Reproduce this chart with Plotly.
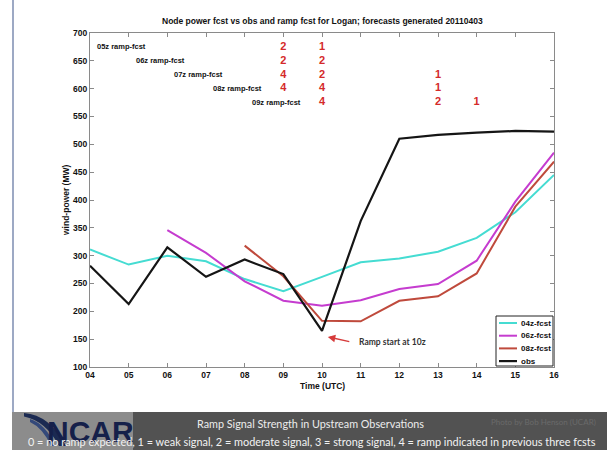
import plotly.graph_objects as go

# ---- data -------------------------------------------------------------
hours = [4, 5, 6, 7, 8, 9, 10, 11, 12, 13, 14, 15, 16]
hour_labels = ["04", "05", "06", "07", "08", "09", "10", "11", "12", "13", "14", "15", "16"]

obs = [282, 213, 315, 262, 293, 267, 165, 362, 510, 517, 521, 524, 523]
fcst_04z = [311, 284, 300, 290, 258, 236, 262, 288, 295, 307, 332, 378, 445]
fcst_06z = [None, None, 346, 305, 254, 219, 210, 220, 240, 249, 291, 397, 485]
fcst_08z = [None, None, None, None, 318, 263, 183, 182, 219, 227, 268, 388, 469]

ramp_issue_hours = [5, 6, 7, 8, 9]
ramp_row_names = ["05z ramp-fcst", "06z ramp-fcst", "07z ramp-fcst", "08z ramp-fcst", "09z ramp-fcst"]
ramp_hours = [[9, 10], [9, 10], [9, 10, 13], [9, 10, 13], [10, 13, 14]]
ramp_signal = [[2, 1], [2, 2], [4, 2, 1], [4, 4, 1], [4, 2, 1]]

# ---- page geometry (pixels) -------------------------------------------
W, H = 607, 450
L, R, T, B = 90, 554, 33, 367


def px(x):
    return (x - L) / (R - L)


def py(y):
    return (B - y) / (B - T)


FONT = "Liberation Sans, Arial, sans-serif"
BANNER_FONT = "Lato, Open Sans, sans-serif"


def label(x, y, text, size, color="#111111", bold=True, family=FONT,
          xanchor="center", angle=0):
    fig.add_annotation(
        x=x, y=y, xref="paper", yref="paper", text=text, showarrow=False,
        xanchor=xanchor, yanchor="middle", textangle=angle,
        font=dict(family=family, size=size, color=color,
                  weight="bold" if bold else "normal"),
    )


fig = go.Figure()

line_specs = [
    ("04z-fcst", fcst_04z, "#45dcd2", 2),
    ("06z-fcst", fcst_06z, "#c53ccf", 2),
    ("08z-fcst", fcst_08z, "#bf4a3c", 2),
    ("obs", obs, "#151515", 2.2),
]
for name, vals, color, width in line_specs:
    fig.add_trace(go.Scatter(
        x=hours, y=vals, name=name, mode="lines",
        line=dict(color=color, width=width),
        connectgaps=False, showlegend=False,
    ))

# ramp signal strength numbers, one row per forecast issue time
for i, (hrs, sig) in enumerate(zip(ramp_hours, ramp_signal)):
    level = 675 - 25 * i
    fig.add_trace(go.Scatter(
        x=hrs, y=[level] * len(hrs), mode="text",
        text=[str(s) for s in sig], textposition="middle center",
        textfont=dict(family=FONT, size=11, color="#d42a2a", weight="bold"),
        showlegend=False, hoverinfo="skip",
    ))
    fig.add_annotation(
        x=ramp_issue_hours[i] - 0.87, y=level, xref="x", yref="y",
        text=ramp_row_names[i], showarrow=False, xanchor="left", yanchor="middle",
        font=dict(family=FONT, size=7.5, color="#111111", weight="bold"),
    )

# ramp start marker
fig.add_annotation(
    x=10.15, y=154, xref="x", yref="y", text="",
    showarrow=True, arrowhead=2, arrowsize=1, arrowwidth=1.5,
    arrowcolor="#d63a3a", ax=23, ay=5,
)
label(px(357), py(342), "Ramp start at 10z", 8.5, "#333333", family=BANNER_FONT, xanchor="left")

# titles
label(0.5, py(21), "Node power fcst vs obs and ramp fcst for Logan; forecasts generated 20110403", 8.5)
label(0.5, py(386), "Time (UTC)", 8.5)
label(px(66), 0.5, "wind-power (MW)", 8.5, angle=-90)

# legend box drawn inside the lower-right corner of the axes
shapes = [
    dict(type="rect", xref="paper", yref="paper", x0=px(496), x1=px(553), y0=py(366), y1=py(316),
         fillcolor="white", line=dict(color="#222222", width=1)),
]
for k, (name, _, color, width) in enumerate(line_specs):
    yk = 323 + 12.7 * k
    shapes.append(dict(type="line", xref="paper", yref="paper", x0=px(499), x1=px(517),
                       y0=py(yk), y1=py(yk), line=dict(color=color, width=width)))
    label(px(518.5), py(yk), name, 8, xanchor="left")

# slide frame and footer banner
shapes += [
    dict(type="line", xref="paper", yref="paper", x0=px(13), x1=px(13), y0=py(0), y1=py(412),
         line=dict(color="#7d8db0", width=1.5)),
    dict(type="rect", xref="paper", yref="paper", x0=px(12), x1=px(608), y0=py(412), y1=py(451),
         fillcolor="rgb(82,82,82)", line=dict(width=0), layer="below"),
    dict(type="rect", xref="paper", yref="paper", x0=px(12), x1=px(133), y0=py(412), y1=py(451),
         fillcolor="rgb(140,140,140)", line=dict(width=0), layer="below"),
]
# logo swoosh
shapes.append(dict(
    type="path", xref="paper", yref="paper",
    path=(f"M {px(24)},{py(413)} Q {px(50)},{py(415)} {px(66)},{py(446)} "
          f"L {px(59)},{py(446)} Q {px(46)},{py(421)} {px(24)},{py(416.5)} Z"),
    fillcolor="#1b2a52", line=dict(width=0),
))
shapes.append(dict(
    type="path", xref="paper", yref="paper",
    path=(f"M {px(30)},{py(419)} Q {px(46)},{py(424)} {px(55)},{py(446)} "
          f"L {px(51)},{py(446)} Q {px(43)},{py(428)} {px(30)},{py(422)} Z"),
    fillcolor="#34497a", line=dict(width=0),
))
fig.update_layout(shapes=shapes)

label(px(90), py(431), "NCAR", 30, "#15204a")
label(px(310), py(423), "Ramp Signal Strength in Upstream Observations", 10.8, "#ececec",
      bold=False, family=BANNER_FONT)
label(px(312), py(441),
      "0 = no ramp expected, 1 = weak signal, 2 = moderate signal, 3 = strong signal, "
      "4 = ramp indicated in previous three fcsts",
      10.9, "#f2f2f2", bold=False, family=BANNER_FONT)
label(px(598), py(422), "Photo by Bob Henson (UCAR)", 8, "#6a6a6a", bold=False,
      family=BANNER_FONT, xanchor="right")

axis_common = dict(
    showline=True, linecolor="#8a8a8a", linewidth=1, mirror="ticks",
    ticks="inside", ticklen=4, tickcolor="#8a8a8a", showgrid=False, zeroline=False,
    tickfont=dict(family=FONT, size=8.5, color="#111111", weight="bold"),
)
fig.update_xaxes(range=[4, 16], tickvals=hours, ticktext=hour_labels, **axis_common)
fig.update_yaxes(range=[100, 700], dtick=50, tick0=100, **axis_common)

fig.update_layout(
    width=W, height=H,
    margin=dict(l=L, r=W - R, t=T, b=H - B, pad=0),
    paper_bgcolor="white", plot_bgcolor="white",
    showlegend=False,
)

fig.write_html("out.html")
